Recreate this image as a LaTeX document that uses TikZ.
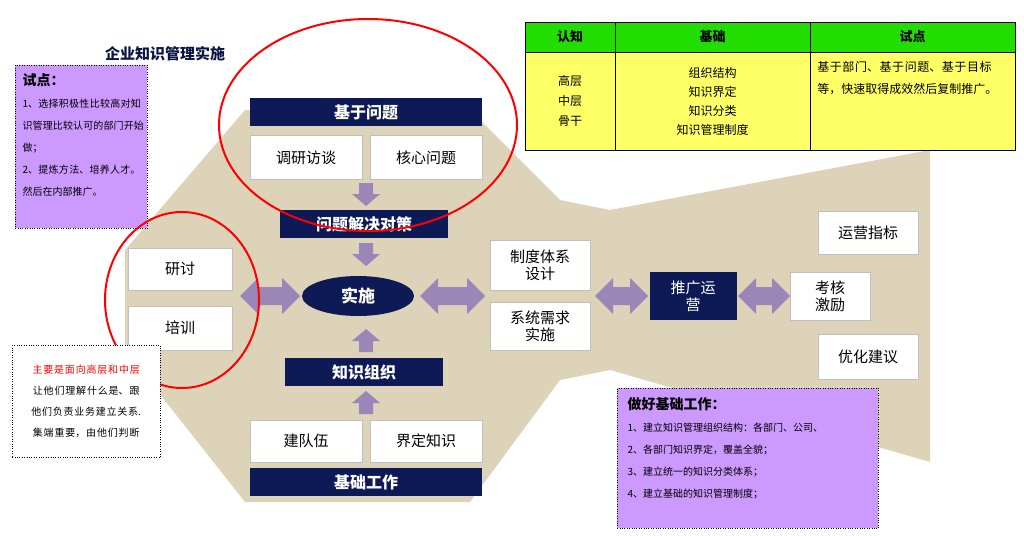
\documentclass[tikz,border=0pt]{standalone}
\usepackage{fontspec}
\setmainfont{Noto Sans CJK SC}
\XeTeXlinebreaklocale "zh"
\XeTeXlinebreakskip=0pt plus 1pt
\usetikzlibrary{arrows.meta,shapes.geometric}
\definecolor{beige}{HTML}{DDD3B8}
\definecolor{navy}{HTML}{0E1A55}
\definecolor{lav}{HTML}{CC99FF}
\definecolor{arr}{HTML}{9B86B8}
\definecolor{tgreen}{HTML}{22DD00}
\definecolor{tyel}{HTML}{FFFF66}
\tikzset{
 wbox/.style={draw=gray!50,fill=white,minimum width=#1pt,minimum height=44pt,font=\fontsize{15}{17}\selectfont,align=center,inner sep=1pt},
 nbar/.style={fill=navy,text=white,minimum width=#1pt,minimum height=28pt,font=\fontsize{16}{18}\selectfont\bfseries,inner sep=1pt},
 cell/.style={draw,minimum height=#1,inner sep=2pt,align=center,font=\fontsize{12}{16}\selectfont},
}
\newcommand\mydown[2]{\fill[arr] (#1-7,#2-11)--(#1+7,#2-11)--(#1+7,#2)--(#1+14,#2)--(#1,#2+12)--(#1-14,#2)--(#1-7,#2)--cycle;}
\newcommand\myup[2]{\fill[arr] (#1-7,#2+11)--(#1+7,#2+11)--(#1+7,#2)--(#1+14,#2)--(#1,#2-12)--(#1-14,#2)--(#1-7,#2)--cycle;}
\newcommand\mydbl[3]{\fill[arr] (#1,#3)--(#1+18,#3-18)--(#1+18,#3-9)--(#2-18,#3-9)--(#2-18,#3-18)--(#2,#3)--(#2-18,#3+18)--(#2-18,#3+9)--(#1+18,#3+9)--(#1+18,#3+18)--cycle;}
\begin{document}
\begin{tikzpicture}[x=1pt,y=-1pt]
\useasboundingbox (0,0) rectangle (1024,535);
\fill[beige] (125,250)--(245,110)--(470,110)--(560,200)--(610,210)--(930,150)--(930,462)--(610,370)--(560,380)--(470,502)--(245,502)--(125,350)--cycle;
% table
\node[cell=30pt,fill=tgreen,minimum width=90pt,font=\fontsize{13}{15}\selectfont\bfseries] (h1) at (570,37) {认知};
\node[cell=30pt,fill=tgreen,minimum width=195pt,font=\fontsize{13}{15}\selectfont\bfseries] (h2) at (712.5,37) {基础};
\node[cell=30pt,fill=tgreen,minimum width=205pt,font=\fontsize{13}{15}\selectfont\bfseries] (h3) at (912.5,37) {试点};
\node[cell=98pt,fill=tyel,minimum width=90pt,anchor=north,font=\fontsize{12}{20}\selectfont] (b1) at (h1.south) {高层\\中层\\骨干};
\node[cell=98pt,fill=tyel,minimum width=195pt,anchor=north,font=\fontsize{12}{19}\selectfont] (b2) at (h2.south) {组织结构\\知识界定\\知识分类\\知识管理制度};
\node[draw,fill=tyel,minimum width=205pt,minimum height=98pt,anchor=north] (b3) at (h3.south) {};
\node[anchor=north west,align=left,text width=188pt,font=\fontsize{12}{22}\selectfont] (b3t) at ([xshift=4pt,yshift=-6pt]b3.north west) {基于部门、基于问题、基于目标等，快速取得成效然后复制推广。};
% title
\node[font=\fontsize{15}{17}\selectfont\bfseries,text=navy!80!black] (title) at (165,54) {企业知识管理实施};
% left purple box
\node[draw,dotted,fill=lav,minimum width=132pt,minimum height=163pt,anchor=north west] (tp) at (15,65) {};
\node[anchor=north west,align=left,text width=124pt,font=\fontsize{10}{22}\selectfont] (tpt) at (19,70) {{\fontsize{14}{18}\selectfont\bfseries 试点：}\\1、选择积极性比较高对知识管理比较认可的部门开始做；\\2、提炼方法、培养人才。然后在内部推广。};
% center column
\node[nbar=232] (jw) at (366,112) {基于问题};
\node[wbox=112] (dy) at (306,157.5) {调研访谈};
\node[wbox=112] (hx) at (426,157.5) {核心问题};
\mydown{366}{194}
\node[nbar=168] (wt) at (364,224) {问题解决对策};
\mydown{366}{254}
\node[ellipse,fill=navy,text=white,minimum width=112pt,minimum height=40pt,font=\fontsize{17}{19}\selectfont\bfseries] (ss) at (358,296) {实施};
\myup{366}{341}
\node[nbar=158] (zz) at (364,372) {知识组织};
\myup{366}{403}
\node[wbox=112,minimum height=42pt] (jd) at (306,441) {建队伍};
\node[wbox=112,minimum height=42pt] (jz) at (426,441) {界定知识};
\node[nbar=232] (jc) at (366,482) {基础工作};
% left boxes
\node[wbox=104,minimum height=42pt] (yt) at (180,269) {研讨};
\node[wbox=104] (px) at (180,328) {培训};
% right
\node[wbox=100,minimum height=50pt] (zd) at (540,265) {制度体系\\设计};
\node[wbox=100,minimum height=48pt] (xt) at (540,326) {系统需求\\实施};
\node[fill=navy,text=white,minimum width=87pt,minimum height=48pt,align=center,font=\fontsize{15}{17}\selectfont,inner sep=1pt] (tg) at (693,296) {推广运\\营};
\node[wbox=80,minimum height=48pt] (kh) at (830,296) {考核\\激励};
\node[wbox=100,minimum height=43pt] (yy) at (868,233) {运营指标};
\node[wbox=100,minimum height=45pt] (yh) at (868,357) {优化建议};
% double arrows
\mydbl{240}{300}{296}
\mydbl{420}{485}{296}
\mydbl{595}{648}{296}
\mydbl{738}{790}{296}
% red ellipses
\draw[red,line width=2pt] (368,125) ellipse (149pt and 106pt);
\draw[red,line width=2pt] (182,300) ellipse (77pt and 88pt);
% note box
\node[draw,dotted,fill=white,minimum width=148pt,minimum height=112pt,anchor=north west] (nb) at (12,345) {};
\node[align=center,font=\fontsize{10}{21}\selectfont,text width=140pt] (nbt) at (nb.center) {\textcolor{red}{主要是面向高层和中层}\\让他们理解什么是、跟他们负责业务建立关系.集端重要，由他们判断};
% bottom purple box
\node[draw,dotted,fill=lav,minimum width=261pt,minimum height=140pt,anchor=north west] (jb) at (617,388) {};
\node[anchor=north west,align=left,font=\fontsize{10}{22}\selectfont] (jbt) at (624,394) {{\fontsize{14}{18}\selectfont\bfseries 做好基础工作：}\\1、建立知识管理组织结构：各部门、公司、\\2、各部门知识界定，覆盖全貌；\\3、建立统一的知识分类体系；\\4、建立基础的知识管理制度；};
\end{tikzpicture}
\end{document}
